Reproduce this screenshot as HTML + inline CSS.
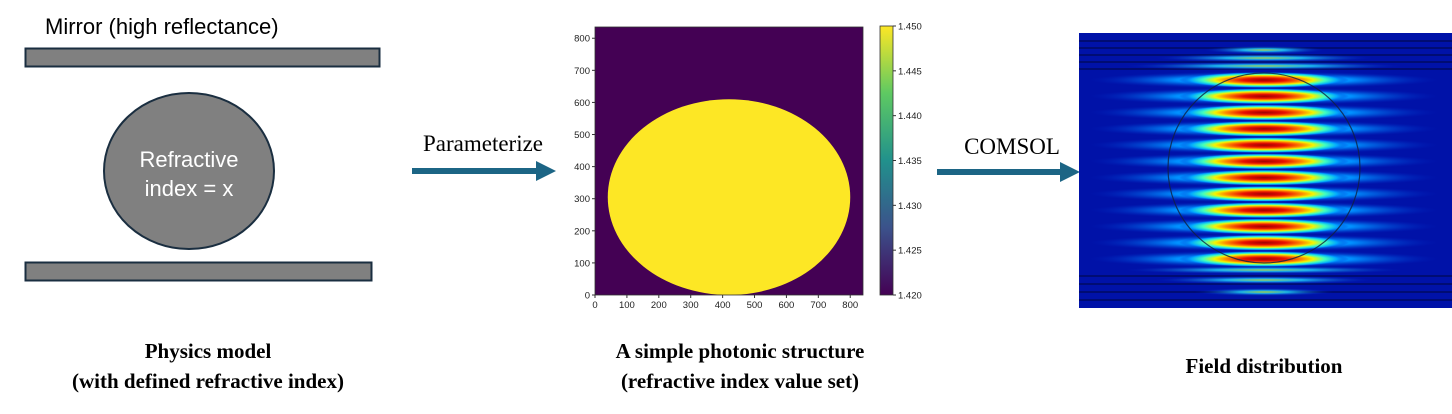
<!DOCTYPE html>
<html><head><meta charset="utf-8"><style>
body{margin:0;background:#fff;width:1452px;height:414px;overflow:hidden;font-family:"Liberation Sans",sans-serif}
svg{display:block}
</style></head><body>
<svg width="1452" height="414" viewBox="0 0 1452 414" xmlns="http://www.w3.org/2000/svg">
<defs>
<radialGradient id="jet" cx="50%" cy="50%" r="50%">
<stop offset="0" stop-color="#a00000"/><stop offset="0.25" stop-color="#e81000"/><stop offset="0.45" stop-color="#ff8a00"/><stop offset="0.58" stop-color="#f5f500"/><stop offset="0.72" stop-color="#40ffc0"/><stop offset="0.86" stop-color="#00a8ff"/><stop offset="1" stop-color="#0020d0" stop-opacity="0"/>
</radialGradient>
<radialGradient id="cyanb" cx="50%" cy="50%" r="50%">
<stop offset="0" stop-color="#30e8ff"/><stop offset="0.5" stop-color="#0090ff"/><stop offset="1" stop-color="#0020c0" stop-opacity="0"/>
</radialGradient>
<radialGradient id="edgeb" cx="50%" cy="50%" r="50%">
<stop offset="0" stop-color="#c8ff40"/><stop offset="0.35" stop-color="#20d8ff"/><stop offset="1" stop-color="#0020c0" stop-opacity="0"/>
</radialGradient>
<linearGradient id="vir" x1="0" y1="1" x2="0" y2="0">
<stop offset="0" stop-color="#440154"/><stop offset="0.25" stop-color="#3b528b"/><stop offset="0.5" stop-color="#21918c"/><stop offset="0.75" stop-color="#5ec962"/><stop offset="1" stop-color="#fde725"/>
</linearGradient>
<clipPath id="fclip"><rect x="1079" y="33" width="373" height="275"/></clipPath>
</defs>

<g>
<text x="45" y="34" font-size="22" fill="#000">Mirror (high reflectance)</text>
<rect x="25.5" y="48.5" width="354" height="18" fill="#808080" stroke="#1a2e40" stroke-width="2"/>
<ellipse cx="189" cy="171" rx="85" ry="78" fill="#808080" stroke="#1a2e40" stroke-width="2"/>
<text x="189" y="167" font-size="22" fill="#fff" text-anchor="middle">Refractive</text>
<text x="189" y="196" font-size="22" fill="#fff" text-anchor="middle">index = x</text>
<rect x="25.5" y="262.5" width="346" height="18" fill="#808080" stroke="#1a2e40" stroke-width="2"/>
</g>

<g>
<text x="483" y="151" font-size="23" font-family="Liberation Serif, serif" text-anchor="middle" fill="#000">Parameterize</text>
<rect x="412" y="168" width="128" height="6" fill="#1c6585"/>
<polygon points="536,161 556,171 536,181" fill="#1c6585"/>
</g>
<g>
<text x="1012" y="154" font-size="23" font-family="Liberation Serif, serif" text-anchor="middle" fill="#000">COMSOL</text>
<rect x="937" y="169" width="126" height="6" fill="#1c6585"/>
<polygon points="1060,162 1080,172 1060,182" fill="#1c6585"/>
</g>

<g id="heat"></g>

<g clip-path="url(#fclip)">
<rect x="1079" y="33" width="373" height="275" fill="#0012a8"/>
<g id="fieldbands"></g>
<ellipse cx="1264" cy="168" rx="96" ry="95" fill="none" stroke="#102040" stroke-width="1.2" opacity="0.8"/>
</g>

<g font-family="Liberation Serif, serif" font-weight="bold" font-size="21" text-anchor="middle" fill="#000">
<text x="208" y="358">Physics model</text>
<text x="208" y="388">(with defined refractive index)</text>
<text x="740" y="358">A simple photonic structure</text>
<text x="740" y="388">(refractive index value set)</text>
<text x="1264" y="373">Field distribution</text>
</g>
</svg>
<script>
const xTicks=[0,100,200,300,400,500,600,700,800];
const yTicks=[0,100,200,300,400,500,600,700,800];
const cbTicks=["1.420","1.425","1.430","1.435","1.440","1.445","1.450"];
const cbValues=[1.420,1.425,1.430,1.435,1.440,1.445,1.450];
const ellipseCenter=[420,305];
const ellipseRadii=[380,305];
const bandCount=[12];
const NS="http://www.w3.org/2000/svg";
function mk(tag,attrs,parent){const e=document.createElementNS(NS,tag);for(const k in attrs)e.setAttribute(k,attrs[k]);parent.appendChild(e);return e;}
const X0=595,X1=863,Y0=295,Y1=27,DX=840,DY=835;
const sx=v=>X0+(v/DX)*(X1-X0);
const sy=v=>Y0-(v/DY)*(Y0-Y1);
const g=document.getElementById('heat');
const bg=mk('rect',{x:X0,y:Y1,width:X1-X0,height:Y0-Y1,fill:'#440154'},g);


const el=mk('ellipse',{cx:sx(ellipseCenter[0]),cy:sy(ellipseCenter[1]),rx:sx(ellipseRadii[0])-sx(0),ry:sy(0)-sy(ellipseRadii[1]),fill:'#fde725'},g);


mk('rect',{x:X0,y:Y1,width:X1-X0,height:Y0-Y1,fill:'none',stroke:'#333','stroke-width':0.8},g);
xTicks.forEach(t=>{const x=sx(t);mk('line',{x1:x,x2:x,y1:Y0,y2:Y0+3,stroke:'#333'},g);
const tx=mk('text',{x:x,y:Y0+13,'font-size':9.5,'text-anchor':'middle',fill:'#222'},g);tx.textContent=t;

});
yTicks.forEach(t=>{const y=sy(t);mk('line',{x1:X0-3,x2:X0,y1:y,y2:y,stroke:'#333'},g);
const tx=mk('text',{x:X0-5,y:y+3.5,'font-size':9.5,'text-anchor':'end',fill:'#222'},g);tx.textContent=t;

});
const CB0=880,CB1=893,CT=26,CBOT=295;
const cb=mk('rect',{x:CB0,y:CT,width:CB1-CB0,height:CBOT-CT,fill:'url(#vir)',stroke:'#333','stroke-width':0.8},g);


const cy=v=>CBOT-(v-1.42)/0.03*(CBOT-CT);
cbValues.forEach((v,i)=>{const y=cy(v);mk('line',{x1:CB1,x2:CB1+3,y1:y,y2:y,stroke:'#333'},g);
const tx=mk('text',{x:CB1+5,y:y+3.5,'font-size':9.5,fill:'#222'},g);tx.textContent=cbTicks[i];

});
const fb=document.getElementById('fieldbands');
for(const y of [40,47,54,61,68,275,283,291,299]){mk('rect',{x:1079,y:y,width:373,height:2,fill:'#000850',opacity:0.6},fb);}
for(const [y,w] of [[50,60],[58,110],[66,140],[270,140],[280,110],[292,70]]){mk('ellipse',{cx:1264,cy:y,rx:w,ry:4,fill:'url(#edgeb)',opacity:0.8},fb);}
const n=bandCount[0];
for(let i=0;i<n;i++){const y=80+i*(259-80)/(n-1);
mk('ellipse',{cx:1264,cy:y,rx:175,ry:8.5,fill:'url(#cyanb)'},fb);
const b=mk('ellipse',{cx:1264,cy:y,rx:85,ry:8,fill:'url(#jet)'},fb);

}
</script>
</body></html>
